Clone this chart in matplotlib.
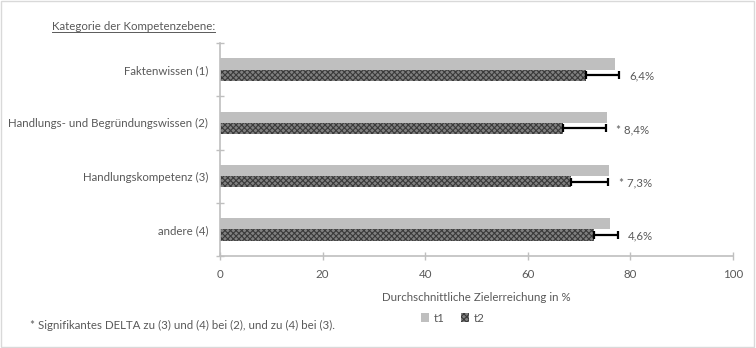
import numpy as np
import matplotlib.pyplot as plt
from matplotlib.patches import Rectangle

plt.rcParams['font.family'] = ['Lato', 'DejaVu Sans']
plt.rcParams['hatch.linewidth'] = 0.8

kategorien = ['Faktenwissen (1)', 'Handlungs- und Begründungswissen (2)',
              'Handlungskompetenz (3)', 'andere (4)']
t1 = [77.0, 75.4, 75.9, 76.0]
t2 = [71.4, 66.8, 68.4, 72.9]
delta = [6.4, 8.4, 7.3, 4.6]
delta_text = ['6,4%', '* 8,4%', '* 7,3%', '4,6%']

grau = '#595959'
achse = '#bfbfbf'
fs = 8.3

fig = plt.figure(figsize=(7.56, 3.48), dpi=100)
ax = fig.add_axes([220 / 756, 1 - 256 / 348, 513 / 756, 213 / 348])

y = np.arange(len(kategorien))
h = 0.21
ax.barh(y - h / 2, t1, height=h, color='#bfbfbf', label='t1')
ax.barh(y + h / 2, t2, height=h, color='#808080', hatch='xxxxxx',
        edgecolor='#3a3a3a', linewidth=0, label='t2')
ax.errorbar(t2, y + h / 2, xerr=[np.zeros(len(delta)), delta], fmt='none',
            ecolor='black', elinewidth=1.6, capsize=3, capthick=1.6)

for i, txt in enumerate(delta_text):
    ax.text(t2[i] + delta[i] + 2.0, y[i] + h / 2 + 0.02, txt, ha='left',
            va='center', fontsize=fs, color=grau)

ax.set_xlim(0, 100)
ax.set_ylim(len(kategorien) - 0.5, -0.5)
ax.set_xticks(np.arange(0, 101, 20))
ax.set_yticks(y)
ax.set_yticklabels(kategorien)
ax.set_yticks(np.arange(-0.5, len(kategorien)), minor=True)
ax.tick_params(axis='y', which='major', length=0, pad=8.5, labelsize=fs,
               labelcolor=grau)
ax.tick_params(axis='y', which='minor', length=6, direction='inout',
               color=achse, width=1)
ax.tick_params(axis='x', length=6, direction='inout', color=achse, width=1,
               labelsize=fs, labelcolor=grau, pad=6)
for s in ['top', 'right']:
    ax.spines[s].set_visible(False)
for s in ['left', 'bottom']:
    ax.spines[s].set_color(achse)
    ax.spines[s].set_linewidth(1.2)

ax.set_xlabel('Durchschnittliche Zielerreichung in %', fontsize=fs,
              color=grau, labelpad=9)

# Überschrift mit Unterstreichung in Textbreite
titel = fig.text(52 / 756, 1 - 26 / 348, 'Kategorie der Kompetenzebene:',
                 fontsize=fs, color=grau, va='center', ha='left')
fig.canvas.draw()
bb = titel.get_window_extent().transformed(fig.transFigure.inverted())
fig.add_artist(plt.Line2D([bb.x0, bb.x1], [1 - 32 / 348, 1 - 32 / 348],
                          color=grau, linewidth=0.7))

fig.text(30 / 756, 1 - 325 / 348,
         '* Signifikantes DELTA zu (3) und (4) bei (2), und zu (4) bei (3).',
         fontsize=fs, color=grau, va='center', ha='left')

fig.legend(loc='center', bbox_to_anchor=(453 / 756, 1 - 318 / 348), ncol=2,
           frameon=False, fontsize=fs, labelcolor=grau, handlelength=0.7,
           handleheight=0.7, handletextpad=0.4, columnspacing=1.4)

fig.add_artist(Rectangle((0.001, 0.002), 0.997, 0.996, transform=fig.transFigure,
                         fill=False, edgecolor='#d9d9d9', linewidth=1))

fig.savefig('out.png', dpi=100)
